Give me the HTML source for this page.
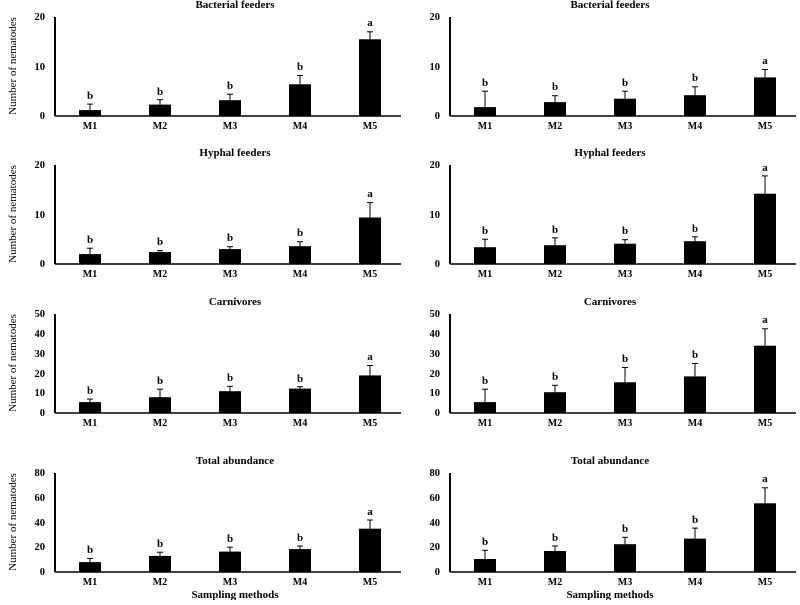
<!DOCTYPE html>
<html><head><meta charset="utf-8"><style>
body{margin:0;background:#fff;width:800px;height:600px;overflow:hidden}
svg{font-family:"Liberation Serif",serif;font-weight:bold}
.t{font-size:11px;text-anchor:middle}
.tk{font-size:10.5px;text-anchor:end;font-weight:bold}
.m{font-size:10px;text-anchor:middle}
.l{font-size:11px;text-anchor:middle}
.yl{font-size:11px;font-weight:normal;text-anchor:middle}
</style></head><body>
<svg width="800" height="600" xmlns="http://www.w3.org/2000/svg">
<defs>
<g id="ax"><line x1="0" y1="-99" x2="0" y2="0" stroke="#000" stroke-width="2"/><line x1="0" y1="0" x2="346" y2="0" stroke="#000" stroke-width="1.5"/>
<text class="m" x="35" y="13">M1</text><text class="m" x="105" y="13">M2</text><text class="m" x="175" y="13">M3</text><text class="m" x="245" y="13">M4</text><text class="m" x="315" y="13">M5</text></g>
</defs>
<!-- Row 1 -->
<g transform="translate(55,116)">
<use href="#ax"/>
<text class="tk" x="-10" y="3">0</text><text class="tk" x="-10" y="-46">10</text><text class="tk" x="-10" y="-96">20</text>
<text class="t" x="180" y="-108">Bacterial feeders</text>
<g stroke="#000" stroke-width="1"><line x1="35" y1="-5.9" x2="35" y2="-11.9"/><line x1="32" y1="-11.9" x2="38" y2="-11.9"/><line x1="105" y1="-11.4" x2="105" y2="-16.3"/><line x1="102" y1="-16.3" x2="108" y2="-16.3"/><line x1="175" y1="-15.8" x2="175" y2="-21.8"/><line x1="172" y1="-21.8" x2="178" y2="-21.8"/><line x1="245" y1="-31.7" x2="245" y2="-40.6"/><line x1="242" y1="-40.6" x2="248" y2="-40.6"/><line x1="315" y1="-76.7" x2="315" y2="-84.2"/><line x1="312" y1="-84.2" x2="318" y2="-84.2"/></g>
<rect x="24" y="-5.9" width="22" height="5.9"/><rect x="94" y="-11.4" width="22" height="11.4"/><rect x="164" y="-15.8" width="22" height="15.8"/><rect x="234" y="-31.7" width="22" height="31.7"/><rect x="304" y="-76.7" width="22" height="76.7"/>
<text class="l" x="35" y="-17">b</text><text class="l" x="105" y="-21">b</text><text class="l" x="175" y="-27">b</text><text class="l" x="245" y="-46">b</text><text class="l" x="315" y="-90">a</text>
</g>
<g transform="translate(450,116)">
<use href="#ax"/>
<text class="tk" x="-10" y="3">0</text><text class="tk" x="-10" y="-46">10</text><text class="tk" x="-10" y="-96">20</text>
<text class="t" x="160" y="-108">Bacterial feeders</text>
<g stroke="#000" stroke-width="1"><line x1="35" y1="-8.9" x2="35" y2="-24.8"/><line x1="32" y1="-24.8" x2="38" y2="-24.8"/><line x1="105" y1="-13.9" x2="105" y2="-20.3"/><line x1="102" y1="-20.3" x2="108" y2="-20.3"/><line x1="175" y1="-17.3" x2="175" y2="-24.8"/><line x1="172" y1="-24.8" x2="178" y2="-24.8"/><line x1="245" y1="-20.8" x2="245" y2="-29.2"/><line x1="242" y1="-29.2" x2="248" y2="-29.2"/><line x1="315" y1="-38.6" x2="315" y2="-46.5"/><line x1="312" y1="-46.5" x2="318" y2="-46.5"/></g>
<rect x="24" y="-8.9" width="22" height="8.9"/><rect x="94" y="-13.9" width="22" height="13.9"/><rect x="164" y="-17.3" width="22" height="17.3"/><rect x="234" y="-20.8" width="22" height="20.8"/><rect x="304" y="-38.6" width="22" height="38.6"/>
<text class="l" x="35" y="-30">b</text><text class="l" x="105" y="-26">b</text><text class="l" x="175" y="-30">b</text><text class="l" x="245" y="-35">b</text><text class="l" x="315" y="-52">a</text>
</g>
<!-- Row 2 -->
<g transform="translate(55,264)">
<use href="#ax"/>
<text class="tk" x="-10" y="3">0</text><text class="tk" x="-10" y="-46">10</text><text class="tk" x="-10" y="-96">20</text>
<text class="t" x="180" y="-108">Hyphal feeders</text>
<g stroke="#000" stroke-width="1"><line x1="35" y1="-9.9" x2="35" y2="-15.8"/><line x1="32" y1="-15.8" x2="38" y2="-15.8"/><line x1="105" y1="-11.9" x2="105" y2="-13.4"/><line x1="102" y1="-13.4" x2="108" y2="-13.4"/><line x1="175" y1="-14.9" x2="175" y2="-17.3"/><line x1="172" y1="-17.3" x2="178" y2="-17.3"/><line x1="245" y1="-17.8" x2="245" y2="-22.3"/><line x1="242" y1="-22.3" x2="248" y2="-22.3"/><line x1="315" y1="-46.5" x2="315" y2="-61.4"/><line x1="312" y1="-61.4" x2="318" y2="-61.4"/></g>
<rect x="24" y="-9.9" width="22" height="9.9"/><rect x="94" y="-11.9" width="22" height="11.9"/><rect x="164" y="-14.9" width="22" height="14.9"/><rect x="234" y="-17.8" width="22" height="17.8"/><rect x="304" y="-46.5" width="22" height="46.5"/>
<text class="l" x="35" y="-21">b</text><text class="l" x="105" y="-19">b</text><text class="l" x="175" y="-23">b</text><text class="l" x="245" y="-28">b</text><text class="l" x="315" y="-67">a</text>
</g>
<g transform="translate(450,264)">
<use href="#ax"/>
<text class="tk" x="-10" y="3">0</text><text class="tk" x="-10" y="-46">10</text><text class="tk" x="-10" y="-96">20</text>
<text class="t" x="160" y="-108">Hyphal feeders</text>
<g stroke="#000" stroke-width="1"><line x1="35" y1="-16.8" x2="35" y2="-24.8"/><line x1="32" y1="-24.8" x2="38" y2="-24.8"/><line x1="105" y1="-18.8" x2="105" y2="-26.2"/><line x1="102" y1="-26.2" x2="108" y2="-26.2"/><line x1="175" y1="-20.3" x2="175" y2="-24.3"/><line x1="172" y1="-24.3" x2="178" y2="-24.3"/><line x1="245" y1="-22.8" x2="245" y2="-27.2"/><line x1="242" y1="-27.2" x2="248" y2="-27.2"/><line x1="315" y1="-70.3" x2="315" y2="-88.1"/><line x1="312" y1="-88.1" x2="318" y2="-88.1"/></g>
<rect x="24" y="-16.8" width="22" height="16.8"/><rect x="94" y="-18.8" width="22" height="18.8"/><rect x="164" y="-20.3" width="22" height="20.3"/><rect x="234" y="-22.8" width="22" height="22.8"/><rect x="304" y="-70.3" width="22" height="70.3"/>
<text class="l" x="35" y="-30">b</text><text class="l" x="105" y="-31">b</text><text class="l" x="175" y="-30">b</text><text class="l" x="245" y="-32">b</text><text class="l" x="315" y="-93">a</text>
</g>
<!-- Row 3 -->
<g transform="translate(55,413)">
<use href="#ax"/>
<text class="tk" x="-10" y="3">0</text><text class="tk" x="-10" y="-17">10</text><text class="tk" x="-10" y="-36">20</text><text class="tk" x="-10" y="-56">30</text><text class="tk" x="-10" y="-76">40</text><text class="tk" x="-10" y="-96">50</text>
<text class="t" x="180" y="-108">Carnivores</text>
<g stroke="#000" stroke-width="1"><line x1="35" y1="-10.9" x2="35" y2="-13.9"/><line x1="32" y1="-13.9" x2="38" y2="-13.9"/><line x1="105" y1="-15.8" x2="105" y2="-23.8"/><line x1="102" y1="-23.8" x2="108" y2="-23.8"/><line x1="175" y1="-21.8" x2="175" y2="-26.7"/><line x1="172" y1="-26.7" x2="178" y2="-26.7"/><line x1="245" y1="-24.4" x2="245" y2="-26.3"/><line x1="242" y1="-26.3" x2="248" y2="-26.3"/><line x1="315" y1="-37.6" x2="315" y2="-47.5"/><line x1="312" y1="-47.5" x2="318" y2="-47.5"/></g>
<rect x="24" y="-10.9" width="22" height="10.9"/><rect x="94" y="-15.8" width="22" height="15.8"/><rect x="164" y="-21.8" width="22" height="21.8"/><rect x="234" y="-24.4" width="22" height="24.4"/><rect x="304" y="-37.6" width="22" height="37.6"/>
<text class="l" x="35" y="-19">b</text><text class="l" x="105" y="-29">b</text><text class="l" x="175" y="-32">b</text><text class="l" x="245" y="-31">b</text><text class="l" x="315" y="-53">a</text>
</g>
<g transform="translate(450,413)">
<use href="#ax"/>
<text class="tk" x="-10" y="3">0</text><text class="tk" x="-10" y="-17">10</text><text class="tk" x="-10" y="-36">20</text><text class="tk" x="-10" y="-56">30</text><text class="tk" x="-10" y="-76">40</text><text class="tk" x="-10" y="-96">50</text>
<text class="t" x="160" y="-108">Carnivores</text>
<g stroke="#000" stroke-width="1"><line x1="35" y1="-10.9" x2="35" y2="-23.8"/><line x1="32" y1="-23.8" x2="38" y2="-23.8"/><line x1="105" y1="-20.8" x2="105" y2="-27.7"/><line x1="102" y1="-27.7" x2="108" y2="-27.7"/><line x1="175" y1="-30.7" x2="175" y2="-45.5"/><line x1="172" y1="-45.5" x2="178" y2="-45.5"/><line x1="245" y1="-36.6" x2="245" y2="-49.5"/><line x1="242" y1="-49.5" x2="248" y2="-49.5"/><line x1="315" y1="-67.3" x2="315" y2="-84.2"/><line x1="312" y1="-84.2" x2="318" y2="-84.2"/></g>
<rect x="24" y="-10.9" width="22" height="10.9"/><rect x="94" y="-20.8" width="22" height="20.8"/><rect x="164" y="-30.7" width="22" height="30.7"/><rect x="234" y="-36.6" width="22" height="36.6"/><rect x="304" y="-67.3" width="22" height="67.3"/>
<text class="l" x="35" y="-29">b</text><text class="l" x="105" y="-33">b</text><text class="l" x="175" y="-51">b</text><text class="l" x="245" y="-55">b</text><text class="l" x="315" y="-90">a</text>
</g>
<!-- Row 4 -->
<g transform="translate(55,572)">
<use href="#ax"/>
<text class="tk" x="-10" y="3">0</text><text class="tk" x="-10" y="-22">20</text><text class="tk" x="-10" y="-46">40</text><text class="tk" x="-10" y="-71">60</text><text class="tk" x="-10" y="-96">80</text>
<text class="t" x="180" y="-108">Total abundance</text>
<text class="t" x="180" y="26">Sampling methods</text>
<g stroke="#000" stroke-width="1"><line x1="35" y1="-9.9" x2="35" y2="-13.6"/><line x1="32" y1="-13.6" x2="38" y2="-13.6"/><line x1="105" y1="-16.1" x2="105" y2="-19.8"/><line x1="102" y1="-19.8" x2="108" y2="-19.8"/><line x1="175" y1="-20.4" x2="175" y2="-24.8"/><line x1="172" y1="-24.8" x2="178" y2="-24.8"/><line x1="245" y1="-22.9" x2="245" y2="-26"/><line x1="242" y1="-26" x2="248" y2="-26"/><line x1="315" y1="-43.3" x2="315" y2="-52"/><line x1="312" y1="-52" x2="318" y2="-52"/></g>
<rect x="24" y="-9.9" width="22" height="9.9"/><rect x="94" y="-16.1" width="22" height="16.1"/><rect x="164" y="-20.4" width="22" height="20.4"/><rect x="234" y="-22.9" width="22" height="22.9"/><rect x="304" y="-43.3" width="22" height="43.3"/>
<text class="l" x="35" y="-19">b</text><text class="l" x="105" y="-25">b</text><text class="l" x="175" y="-30">b</text><text class="l" x="245" y="-31">b</text><text class="l" x="315" y="-57">a</text>
</g>
<g transform="translate(450,572)">
<use href="#ax"/>
<text class="tk" x="-10" y="3">0</text><text class="tk" x="-10" y="-22">20</text><text class="tk" x="-10" y="-46">40</text><text class="tk" x="-10" y="-71">60</text><text class="tk" x="-10" y="-96">80</text>
<text class="t" x="160" y="-108">Total abundance</text>
<text class="t" x="160" y="26">Sampling methods</text>
<g stroke="#000" stroke-width="1"><line x1="35" y1="-13" x2="35" y2="-21.7"/><line x1="32" y1="-21.7" x2="38" y2="-21.7"/><line x1="105" y1="-21" x2="105" y2="-26"/><line x1="102" y1="-26" x2="108" y2="-26"/><line x1="175" y1="-27.8" x2="175" y2="-34.7"/><line x1="172" y1="-34.7" x2="178" y2="-34.7"/><line x1="245" y1="-33.4" x2="245" y2="-43.9"/><line x1="242" y1="-43.9" x2="248" y2="-43.9"/><line x1="315" y1="-68.7" x2="315" y2="-84.2"/><line x1="312" y1="-84.2" x2="318" y2="-84.2"/></g>
<rect x="24" y="-13" width="22" height="13"/><rect x="94" y="-21" width="22" height="21"/><rect x="164" y="-27.8" width="22" height="27.8"/><rect x="234" y="-33.4" width="22" height="33.4"/><rect x="304" y="-68.7" width="22" height="68.7"/>
<text class="l" x="35" y="-27">b</text><text class="l" x="105" y="-31">b</text><text class="l" x="175" y="-40">b</text><text class="l" x="245" y="-49">b</text><text class="l" x="315" y="-90">a</text>
</g>
<!-- y labels -->
<text class="yl" transform="translate(16,66) rotate(-90)">Number of nematodes</text>
<text class="yl" transform="translate(16,214) rotate(-90)">Number of nematodes</text>
<text class="yl" transform="translate(16,363) rotate(-90)">Number of nematodes</text>
<text class="yl" transform="translate(16,522) rotate(-90)">Number of nematodes</text>
</svg>
</body></html>
